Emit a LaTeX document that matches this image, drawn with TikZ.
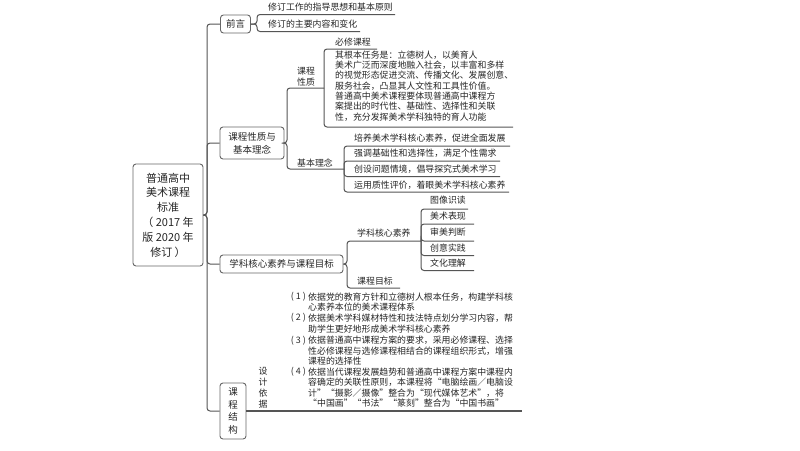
\documentclass[tikz,border=0pt]{standalone}
\usepackage{fontspec}
\setmainfont{Noto Sans CJK SC}
\newfontfamily\fwq[RawFeature=+fwid]{Noto Sans CJK SC}
\newcommand\myql{{\fwq “}}
\newcommand\myqr{{\fwq ”}}
\definecolor{linec}{HTML}{555555}
\definecolor{txtc}{HTML}{262626}
\definecolor{boxc}{HTML}{666666}
\begin{document}
\begin{tikzpicture}[x=1pt,y=-1pt,
  conn/.style={draw=linec, line width=1pt, rounded corners=3pt},
  bx/.style={draw=boxc, line width=0.9pt, rounded corners=3pt, text=txtc,
     font=\fontsize{9.5}{13}\selectfont, inner sep=0pt, align=center},
  tx/.style={text=txtc, font=\fontsize{8.9}{10}\selectfont, inner sep=0pt, anchor=west},
  txc/.style={text=txtc, font=\fontsize{8.9}{11}\selectfont, inner sep=0pt, anchor=center, align=center}]
\fill[white] (0,0) rectangle (800,450);
\useasboundingbox (0,0) rectangle (800,450);

% main boxes
\node[bx, minimum width=70pt, minimum height=102pt, font=\fontsize{11}{14.8}\selectfont] (root) at (168,215)
  {普通高中\\美术课程\\标准\\（ 2017 年\\版 2020 年\\修订 ）};
\node[bx, minimum width=30pt, minimum height=18pt] (qy) at (235.5,24) {前言};
\node[bx, minimum width=64pt, minimum height=32pt] (xz) at (252,143) {课程性质与\\基本理念};
\node[bx, minimum width=123pt, minimum height=18pt] (hx) at (281.5,264) {学科核心素养与课程目标};
\node[bx, minimum width=26pt, minimum height=56pt, font=\fontsize{9.5}{12.5}\selectfont] (jg) at (233,411) {课\\程\\结\\构};

% trunk
\coordinate (tr) at (207,0);
\foreach \n in {qy,xz,hx,jg} \draw[conn] (root.east) -- (tr |- root.east) |- (\n.west);

% 前言
\coordinate (s1) at (257,0);
\node[tx] (q1) at (268,7) {修订工作的指导思想和基本原则};
\node[tx] (q2) at (268,24) {修订的主要内容和变化};
\coordinate (q1e) at (395,14.5);
\coordinate (q2e) at (360,31.5);
\draw[conn] (qy.east) -- (s1 |- qy.east) |- (q1e);
\draw[conn] (qy.east) -- (s1 |- qy.east) |- (q2e);

% 课程性质与基本理念
\coordinate (s2) at (287,0);
\node[txc] (kx) at (306,76.5) {课程\\性质};
\coordinate (kxe) at (324,88);
\node[tx] (jb) at (297,163) {基本理念};
\coordinate (jbe) at (344,169);
\draw[conn] (xz.east) -- (s2 |- xz.east) |- (kxe);
\draw[conn] (xz.east) -- (s2 |- xz.east) |- (jbe);

% 课程性质 children
\node[tx] (bxk) at (335,42) {必修课程};
\coordinate (bxke) at (377,49);
\node[tx] (nr1) at (335,55) {其根本任务是：立德树人，以美育人};
\node[tx] (nr2) at (335,65.3) {美术广泛而深度地融入社会，以丰富和多样};
\node[tx] (nr3) at (335,75.6) {的视觉形态促进交流、传播文化、发展创意、};
\node[tx] (nr4) at (335,85.9) {服务社会，凸显其人文性和工具性价值。};
\node[tx] (nr5) at (335,96.2) {普通高中美术课程要体现普通高中课程方};
\node[tx] (nr6) at (335,106.5) {案提出的时代性、基础性、选择性和关联};
\node[tx] (nr7) at (335,116.8) {性，充分发挥美术学科独特的育人功能};
\coordinate (nre) at (513,127);
\draw[conn] (kxe) |- (bxke);
\draw[conn] (kxe) |- (nre);

% 基本理念 children
\node[tx] (l1) at (354,138) {培养美术学科核心素养，促进全面发展};
\node[tx] (l2) at (354,153.5) {强调基础性和选择性，满足个性需求};
\node[tx] (l3) at (354,169) {创设问题情境，倡导探究式美术学习};
\node[tx] (l4) at (354,185) {运用质性评价，着眼美术学科核心素养};
\coordinate (l1e) at (510,146);
\coordinate (l2e) at (500,161);
\coordinate (l3e) at (500,176.5);
\coordinate (l4e) at (509,192);
\foreach \e in {l1e,l2e,l3e,l4e} \draw[conn] (jbe) |- (\e);

% 学科核心素养与课程目标
\coordinate (s3) at (347,0);
\node[tx] (xk) at (357,233) {学科核心素养};
\coordinate (xke) at (421,241);
\node[tx] (mb) at (357,281) {课程目标};
\coordinate (mbe) at (400,288);
\draw[conn] (hx.east) -- (s3 |- hx.east) |- (xke);
\draw[conn] (hx.east) -- (s3 |- hx.east) |- (mbe);

% 学科核心素养 children
\node[tx] (h1) at (430,200) {图像识读};
\node[tx] (h2) at (430,216) {美术表现};
\node[tx] (h3) at (430,232.5) {审美判断};
\node[tx] (h4) at (430,248) {创意实践};
\node[tx] (h5) at (430,263) {文化理解};
\coordinate (h1e) at (468,209);
\coordinate (h2e) at (474,224);
\coordinate (h3e) at (474,241);
\coordinate (h4e) at (474,255.5);
\coordinate (h5e) at (474,270.5);
\foreach \e in {h1e,h2e,h3e,h4e,h5e} \draw[conn] (xke) |- (\e);

% 课程结构
\node[txc] (sj) at (263,387.5) {设\\计\\依\\据};
\coordinate (sje) at (278,411);
\coordinate (bke) at (522,411);
\draw[conn, line width=1.3pt] (jg.east) -- (sje);
\draw[conn, line width=1.3pt] (sje) -- (bke);

\node[tx, anchor=east] (n1) at (306,297) {( 1 )};
\node[tx] (b1) at (308,297) {依据党的教育方针和立德树人根本任务，构建学科核};
\node[tx] (b2) at (308,307.5) {心素养本位的美术课程体系};
\node[tx, anchor=east] (n2) at (306,318) {( 2 )};
\node[tx] (b3) at (308,318) {依据美术学科媒材特性和技法特点划分学习内容，帮};
\node[tx] (b4) at (308,329) {助学生更好地形成美术学科核心素养};
\node[tx, anchor=east] (n3) at (306,340.5) {( 3 )};
\node[tx] (b5) at (308,340.5) {依据普通高中课程方案的要求，采用必修课程、选择};
\node[tx] (b6) at (308,351) {性必修课程与选修课程相结合的课程组织形式，增强};
\node[tx] (b7) at (308,361.5) {课程的选择性};
\node[tx, anchor=east] (n4) at (306,372) {( 4 )};
\node[tx] (b8) at (308,372) {依据当代课程发展趋势和普通高中课程方案中课程内};
\node[tx] (b9) at (308,382.5) {容确定的关联性原则，本课程将\myql 电脑绘画／电脑设};
\node[tx] (b10) at (308,393) {计\myqr\myql 摄影／摄像\myqr 整合为\myql 现代媒体艺术\myqr ，将};
\node[tx] (b11) at (308,403.5) {\myql 中国画\myqr\myql 书法\myqr\myql 篆刻\myqr 整合为\myql 中国书画\myqr};
\end{tikzpicture}
\end{document}
